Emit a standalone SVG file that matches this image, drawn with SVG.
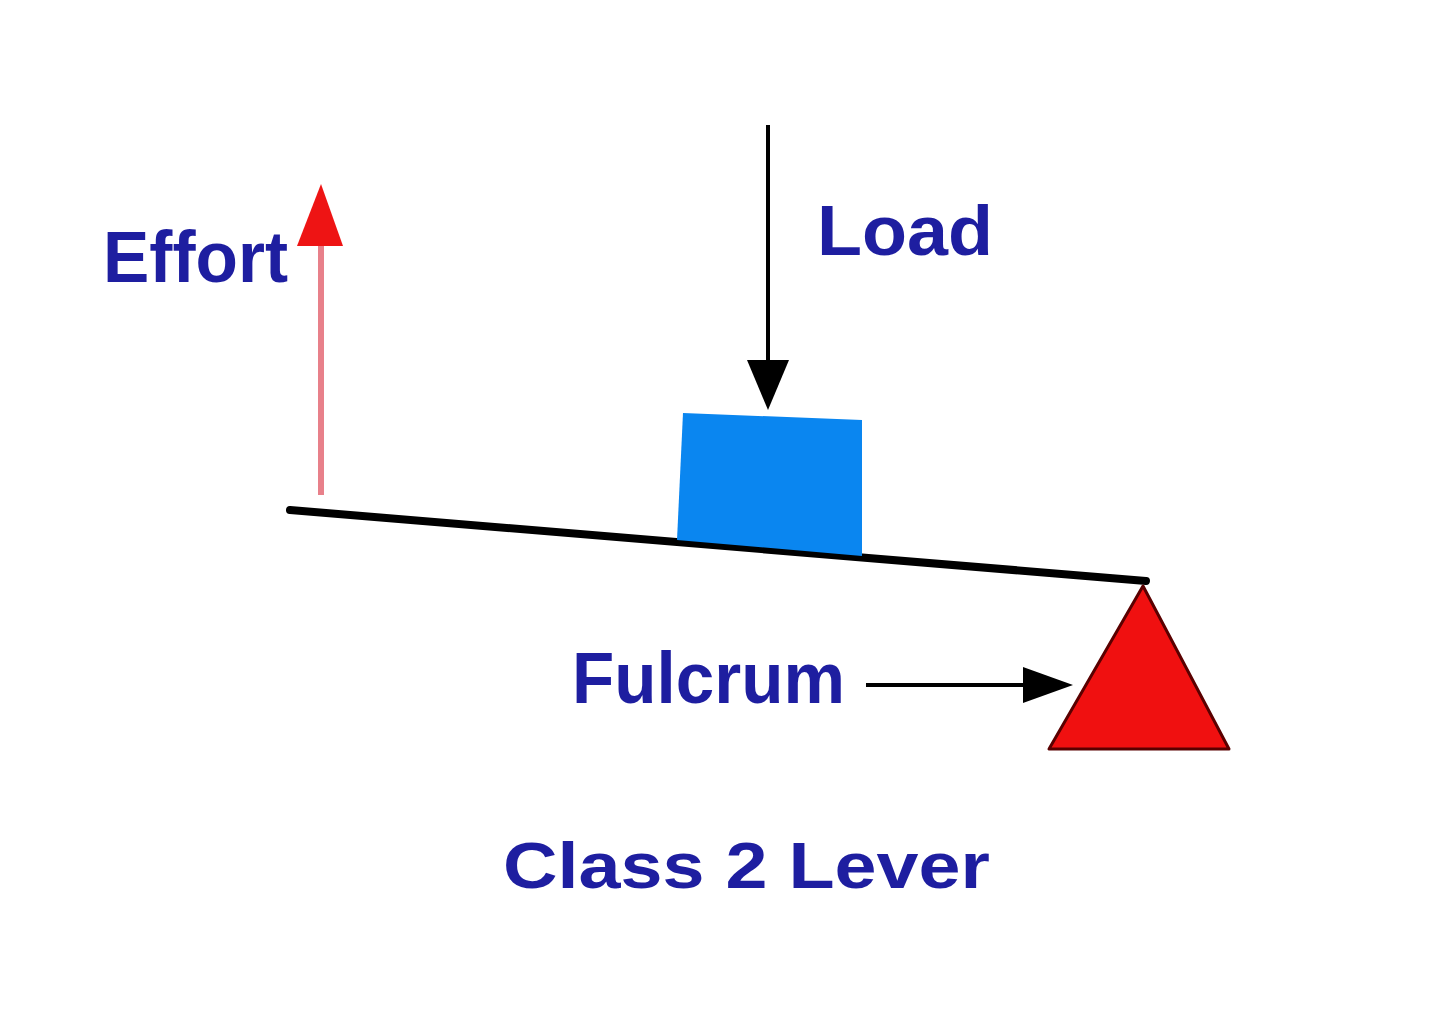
<svg xmlns="http://www.w3.org/2000/svg" width="1440" height="1021" viewBox="0 0 1440 1021">
<style>
.lbl{font-family:"Liberation Sans",Arial,sans-serif;font-weight:bold;fill:#1e1ea0;}
</style>
<rect width="1440" height="1021" fill="#ffffff"/>
<g id="lever">
<line x1="290" y1="510" x2="1146" y2="581" stroke="#000" stroke-width="8" stroke-linecap="round"/>
</g>
<g id="load-block">
<polygon points="683,413 862,420 862,556 677,540" fill="#0a86f0"/>
</g>
<g id="fulcrum">
<polygon points="1143,586 1049,749 1229,749" fill="#f01010" stroke="#5a0000" stroke-width="3" stroke-linejoin="round"/>
</g>
<g id="connectors">
<line x1="321" y1="495" x2="321" y2="240" stroke="#e8808a" stroke-width="6"/>
<polygon points="321,184 297,246 343,246" fill="#ee1414"/>
<line x1="768" y1="125" x2="768" y2="370" stroke="#000" stroke-width="4"/>
<polygon points="768,410 747,360 789,360" fill="#000"/>
<line x1="866" y1="685" x2="1030" y2="685" stroke="#000" stroke-width="4"/>
<polygon points="1073,685 1023,667 1023,703" fill="#000"/>
</g>
<g id="labels">
<text class="lbl" x="103" y="282" font-size="72" textLength="185" lengthAdjust="spacingAndGlyphs">Effort</text>
<text class="lbl" x="817" y="255" font-size="70" textLength="176" lengthAdjust="spacingAndGlyphs">Load</text>
<text class="lbl" x="572" y="703" font-size="72" textLength="273" lengthAdjust="spacingAndGlyphs">Fulcrum</text>
<text class="lbl" x="503" y="888" font-size="64" textLength="487" lengthAdjust="spacingAndGlyphs">Class 2 Lever</text>
</g>
</svg>
